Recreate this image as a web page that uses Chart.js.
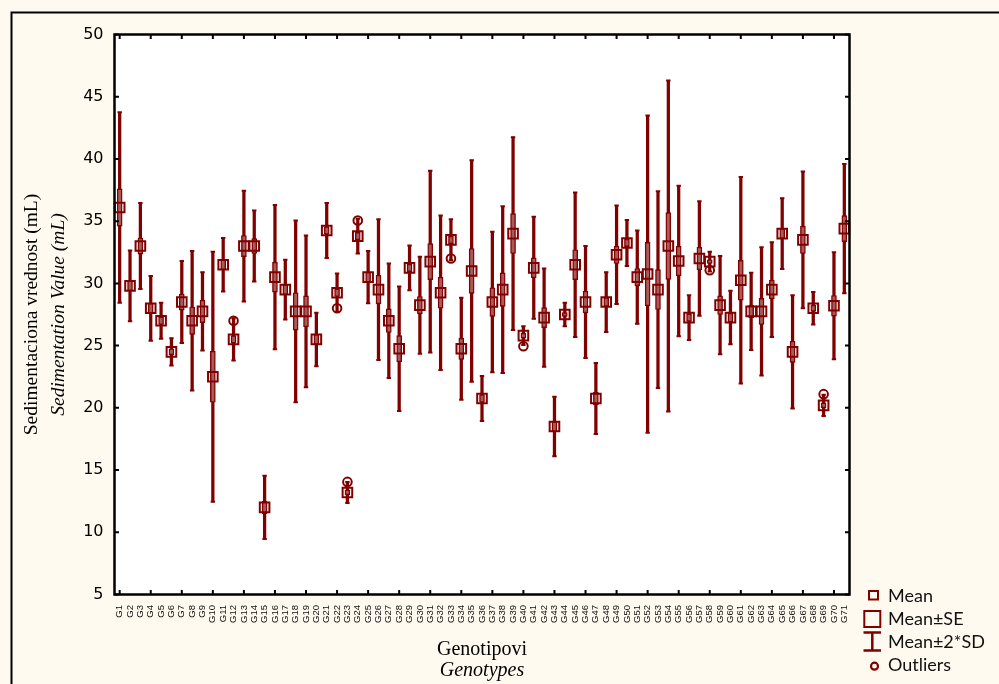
<!DOCTYPE html>
<html><head><meta charset="utf-8">
<script src="https://cdn.jsdelivr.net/npm/chart.js@4.4.1/dist/chart.umd.min.js"></script>
<style>html,body{margin:0;padding:0;background:#fffaef;overflow:hidden}</style>
</head><body>
<canvas id="c" width="999" height="684" style="display:block;width:999px;height:684px"></canvas>
<script>
const genotypes = ['G1','G2','G3','G4','G5','G6','G7','G8','G9','G10','G11','G12','G13','G14','G15','G16','G17','G18','G19','G20',
'G21','G22','G23','G24','G25','G26','G27','G28','G29','G30','G31','G32','G33','G34','G35','G36','G37','G38','G39','G40',
'G41','G42','G43','G44','G45','G46','G47','G48','G49','G50','G51','G52','G53','G54','G55','G56','G57','G58','G59','G60',
'G61','G62','G63','G64','G65','G66','G67','G68','G69','G70','G71'];
const means = [36.1,29.8,33.0,28.0,27.0,24.5,28.5,27.0,27.75,22.5,31.5,25.5,33.0,33.0,12.0,30.5,29.5,27.75,27.75,25.5,
34.25,29.25,13.2,33.8,30.5,29.5,27.0,24.75,31.25,28.25,31.75,29.25,33.5,24.75,31.0,20.75,28.5,29.5,34.0,25.8,
31.25,27.25,18.5,27.5,31.5,28.5,20.75,28.5,32.3,33.25,30.5,30.75,29.5,33.0,31.8,27.25,32.0,31.75,28.25,27.25,
30.25,27.75,27.75,29.5,34.0,24.5,33.5,28.0,20.2,28.2,34.4];
const stdErrs = [1.5,0.4,0.65,0.4,0.3,0.25,0.65,1.1,0.9,2.05,0.4,0.3,0.85,0.6,0.5,1.2,0.4,1.5,1.25,0.4,
0.3,0.3,0.2,0.3,0.4,1.15,0.95,1.05,0.3,0.7,1.45,1.25,0.3,0.85,1.8,0.3,1.15,1.35,1.6,0.2,
0.8,0.8,0.4,0.15,1.2,0.87,0.5,0.35,0.7,0.3,0.7,2.55,1.6,2.68,1.2,0.3,0.9,0.15,0.75,0.35,
1.6,0.5,1.05,0.75,0.4,0.85,1.1,0.25,0.2,0.83,1.04];
const twoSD = [7.65,2.85,3.45,2.6,1.45,1.1,3.3,5.6,3.15,10.05,2.15,1.7,4.45,2.85,2.55,5.8,2.4,7.3,6.1,2.15,
2.2,1.55,0.85,1.4,2.1,5.65,4.6,5.0,1.8,3.9,7.3,6.2,1.65,4.1,8.9,1.8,5.65,6.7,7.75,0.75,
4.1,3.95,2.4,0.95,5.8,4.5,2.85,2.4,3.95,1.85,3.75,12.75,7.9,13.3,6.05,1.8,4.6,0.8,3.95,2.15,
8.3,3.1,5.15,3.8,2.85,4.55,5.5,1.3,0.85,4.3,5.2];
const outlierGenotypes = ['G12','G22','G23','G24','G33','G40','G58','G69'];
const outlierValues = [27.0,28.0,14.05,35.05,32.0,24.95,31.05,21.1];
const yTickValues = [5,10,15,20,25,30,35,40,45,50];

const RED = '#800000';
const CREAM = '#fffaef';

const whiskerData = means.map((m,i)=>[m - twoSD[i], m + twoSD[i]]);
const seData = means.map((m,i)=>[m - stdErrs[i], m + stdErrs[i]]);
const capData = [];
means.forEach((m,i)=>{ capData.push({x:genotypes[i], y:m - twoSD[i]}); capData.push({x:genotypes[i], y:m + twoSD[i]}); });
const outlierData = genotypes.map(g => { const k = outlierGenotypes.indexOf(g); return k < 0 ? null : outlierValues[k]; });

const framePlugin = {
  id: 'frame',
  beforeDraw(chart){
    const {ctx, chartArea:a} = chart;
    ctx.save();
    ctx.fillStyle = CREAM; ctx.fillRect(0,0,chart.width,chart.height);
    ctx.strokeStyle = '#000'; ctx.lineWidth = 2;
    ctx.beginPath(); ctx.moveTo(11.5,chart.height+2); ctx.lineTo(11.5,12.5); ctx.lineTo(chart.width+2,12.5); ctx.stroke();
    ctx.fillStyle = '#fff'; ctx.fillRect(a.left,a.top,a.right-a.left,a.bottom-a.top);
    ctx.restore();
  },
  afterDraw(chart){
    const {ctx, chartArea:a, scales} = chart;
    ctx.save();
    ctx.strokeStyle = '#000'; ctx.lineWidth = 2.5;
    ctx.strokeRect(a.left,a.top,a.right-a.left,a.bottom-a.top);
    ctx.lineWidth = 2; ctx.beginPath();
    scales.y.ticks.forEach((t,i)=>{ const py = scales.y.getPixelForTick(i);
      ctx.moveTo(a.left,py); ctx.lineTo(a.left+4.5,py); ctx.moveTo(a.right,py); ctx.lineTo(a.right-4.5,py); });
    scales.x.ticks.forEach((t,i)=>{ if (i % 3) return; const px = scales.x.getPixelForTick(i);
      ctx.moveTo(px,a.bottom); ctx.lineTo(px,a.bottom-4.5); ctx.moveTo(px,a.top); ctx.lineTo(px,a.top+4.5); });
    ctx.stroke();
    // legend
    ctx.strokeStyle = RED; ctx.lineWidth = 2;
    ctx.strokeRect(869, 591, 9, 8.5);
    ctx.strokeRect(864.3, 611, 16, 16);
    ctx.lineWidth = 2.5; ctx.beginPath();
    ctx.moveTo(872.3,632); ctx.lineTo(872.3,651);
    ctx.moveTo(863.5,632.5); ctx.lineTo(881,632.5);
    ctx.moveTo(863.5,650.5); ctx.lineTo(881,650.5);
    ctx.stroke();
    ctx.lineWidth = 2.2; ctx.beginPath(); ctx.arc(874.5,666.2,3.5,0,Math.PI*2); ctx.stroke();
    ctx.fillStyle = '#111'; ctx.font = '18px Lato'; ctx.textBaseline = 'middle'; ctx.textAlign = 'left';
    ctx.fillText('Mean', 888, 596);
    ctx.fillText('Mean±SE', 888, 619);
    ctx.fillText('Mean±2*SD', 888, 642);
    ctx.fillText('Outliers', 888, 665.5);
    ctx.restore();
  }
};

new Chart(document.getElementById('c'), {
  type: 'bar',
  data: {
    labels: genotypes,
    datasets: [
      {type:'bar', label:'Mean±2*SD', data: whiskerData, backgroundColor: RED, borderWidth: 0, barThickness: 2.6, grouped: false, order: 5},
      {type:'line', label:'caps', data: capData, showLine: false, pointStyle: 'line', pointRadius: 2.2, pointHoverRadius: 2.2,
        pointBorderWidth: 2, pointBorderColor: RED, borderColor: RED, order: 4},
      {type:'bar', label:'Mean±SE', data: seData, backgroundColor: '#a95a5a', borderColor: RED, borderWidth: 1.4, borderSkipped: false,
        barThickness: 5, grouped: false, order: 3},
      {type:'line', label:'Mean', data: means, showLine: false, pointStyle: 'rect', pointRadius: 6.8, pointHoverRadius: 6.8,
        pointBorderWidth: 2, pointBorderColor: RED, pointBackgroundColor: 'rgba(0,0,0,0)', borderColor: RED, order: 2},
      {type:'line', label:'Outliers', data: outlierData, showLine: false, pointStyle: 'circle', pointRadius: 4.3, pointHoverRadius: 4.3,
        pointBorderWidth: 2, pointBorderColor: RED, pointBackgroundColor: 'rgba(0,0,0,0)', borderColor: RED, order: 1}
    ]
  },
  options: {
    responsive: false,
    animation: false,
    events: [],
    devicePixelRatio: 1,
    layout: { padding: { left: 11, top: 34.5, right: 149.5, bottom: 0 } },
    plugins: { legend: { display: false }, tooltip: { enabled: false } },
    scales: {
      x: {
        type: 'category', position: 'bottom', weight: 0, offset: true,
        grid: { display: false, drawTicks: false }, border: { display: false },
        ticks: { autoSkip: false, maxRotation: 90, minRotation: 90, padding: 10.5, color: '#111',
          font: { family: 'Liberation Sans', size: 9.5 } },
        title: { display: true, text: 'Genotipovi', color: '#000',
          font: { family: 'Liberation Serif', size: 20 }, padding: { top: 0, bottom: 6.5 } },
        afterFit: s => { s.height = 73.5; }
      },
      x2: {
        type: 'category', position: 'bottom', weight: 1, offset: true,
        grid: { display: false, drawTicks: false }, border: { display: false },
        ticks: { display: false },
        title: { display: true, text: 'Genotypes', color: '#000',
          font: { family: 'Liberation Serif', size: 20, style: 'italic' }, padding: { top: 0, bottom: 1 } },
        afterFit: s => { s.height = 16; }
      },
      y: {
        type: 'linear', position: 'left', weight: 0, min: 5, max: 50,
        afterBuildTicks: s => { s.ticks = yTickValues.map(v => ({value: v})); },
        grid: { display: false, drawTicks: false }, border: { display: false },
        ticks: { padding: 11, color: '#000', font: { family: 'DejaVu Sans', size: 16 } },
        title: { display: true, text: 'Sedimentation Value (mL)', color: '#000',
          font: { family: 'Liberation Serif', size: 19.5, style: 'italic' }, padding: { top: 2.7, bottom: 0 } },
        afterFit: s => { s.width = 70.5; }
      },
      y2: {
        type: 'linear', position: 'left', weight: 1, min: 5, max: 50,
        grid: { display: false, drawTicks: false }, border: { display: false },
        ticks: { display: false },
        title: { display: true, text: 'Sedimentaciona vrednost (mL)', color: '#000',
          font: { family: 'Liberation Serif', size: 19.5 }, padding: { top: 9, bottom: 0 } },
        afterFit: s => { s.width = 33; }
      }
    }
  },
  plugins: [framePlugin]
});
</script>
</body></html>
